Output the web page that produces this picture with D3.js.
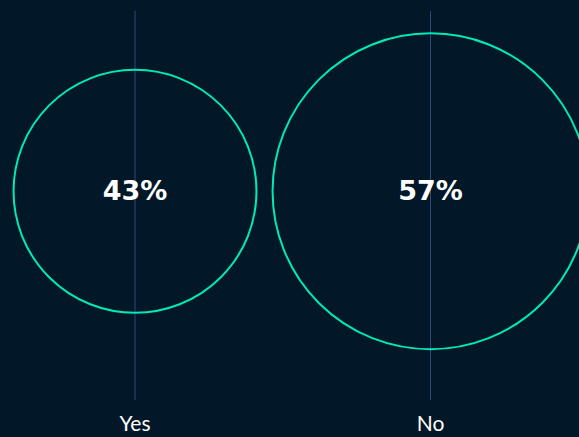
<!DOCTYPE html>
<html>
<head>
<meta charset="utf-8">
<script src="https://cdn.jsdelivr.net/npm/d3@7"></script>
<style>
html,body{margin:0;padding:0;background:#021727;}
svg{display:block;}
</style>
</head>
<body>
<svg id="chart" width="579" height="437"></svg>
<script>
const categories = ["Yes", "No"];
const values = [43, 57];
const valueLabels = ["43%", "57%"];

const W = 579, H = 437;
const svg = d3.select("#chart");
svg.append("rect").attr("width", W).attr("height", H).attr("fill", "#021727");

const x = d3.scalePoint().domain(categories).range([135, 430.5]);
const r = d3.scaleLinear().domain([0, 100]).range([9.4, 270]);
const cy = 191.3;

const data = categories.map((c, i) => ({cat: c, v: values[i], label: valueLabels[i]}));

svg.selectAll("line.grid").data(data).enter().append("line")
  .attr("class", "grid")
  .attr("x1", d => x(d.cat)).attr("x2", d => x(d.cat))
  .attr("y1", 11).attr("y2", 400)
  .attr("stroke", "#2a4a78").attr("stroke-width", 1);

svg.selectAll("circle.bubble").data(data).enter().append("circle")
  .attr("class", "bubble")
  .attr("cx", d => x(d.cat)).attr("cy", cy)
  .attr("r", d => r(d.v))
  .attr("fill", "none")
  .attr("stroke", "#00eab8").attr("stroke-width", 2);

svg.selectAll("text.val").data(data).enter().append("text")
  .attr("class", "val")
  .attr("x", d => x(d.cat)).attr("y", 199.5)
  .attr("text-anchor", "middle")
  .attr("font-family", "'DejaVu Sans', sans-serif")
  .attr("font-weight", "bold").attr("font-size", 27)
  .attr("fill", "#ffffff")
  .text(d => d.label);

svg.selectAll("text.cat").data(data).enter().append("text")
  .attr("class", "cat")
  .attr("x", d => x(d.cat)).attr("y", 431)
  .attr("text-anchor", "middle")
  .attr("font-family", "Lato, 'Open Sans', sans-serif")
  .attr("font-size", 21)
  .attr("fill", "#ffffff")
  .text(d => d.cat);
</script>
</body>
</html>
